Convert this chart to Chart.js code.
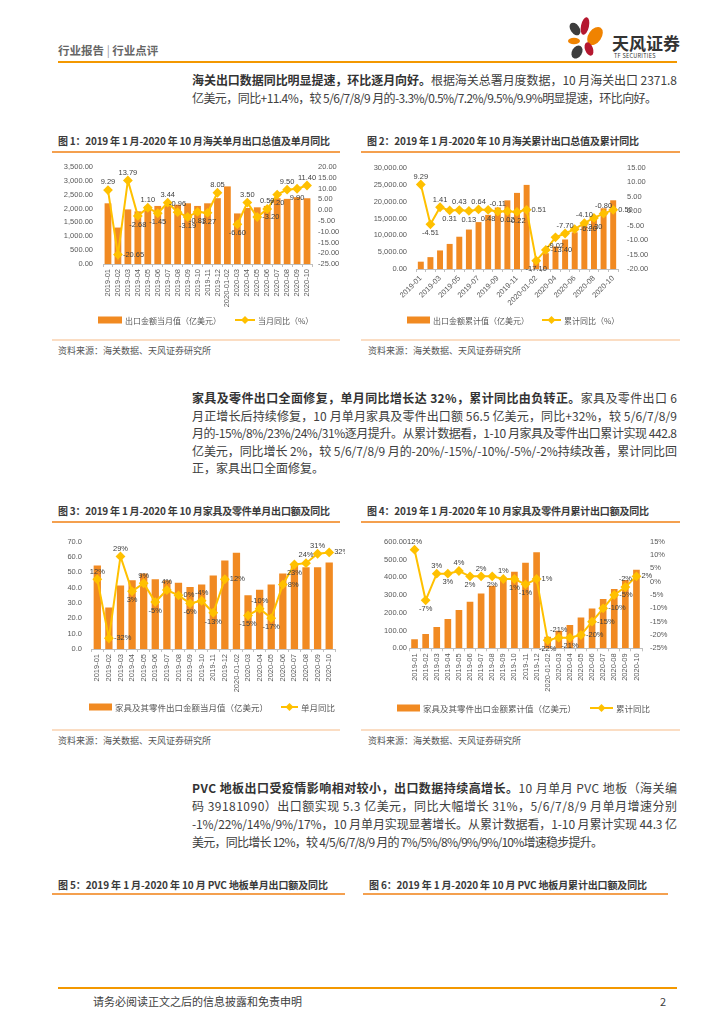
<!DOCTYPE html>
<html>
<head>
<meta charset="utf-8">
<script src="https://cdn.jsdelivr.net/npm/chart.js@4.4.1/dist/chart.umd.min.js"></script>
<style>
body { margin: 0; background: #fff; }
#page { position: relative; width: 724px; height: 1024px; overflow: hidden; font-family: "Noto Sans CJK SC", sans-serif; color: #404040; }
.ln { position: absolute; left: 192px; font-size: 12px; line-height: 18px; white-space: nowrap; }
.ln b { color: #333; }
.ftitle { position: absolute; font-size: 10px; line-height: 12px; font-weight: bold; color: #3a3a3a; white-space: nowrap; }
.fline { position: absolute; height: 1.5px; background: #F4A04F; }
.sline { position: absolute; height: 2px; background: #FBDDC3; }
.src { position: absolute; font-size: 9px; line-height: 11px; color: #555; white-space: nowrap; }
canvas { position: absolute; }
</style>
</head>
<body>
<div id="page">
  <!-- header -->
  <div style="position:absolute;left:58px;top:42px;font-size:11.5px;font-weight:bold;color:#666;white-space:nowrap;">行业报告 <span style="font-weight:normal;color:#999">|</span> 行业点评</div>
  <svg style="position:absolute;left:565px;top:15px" width="46" height="46" viewBox="0 0 46 46">
    <ellipse cx="10" cy="14" rx="4.5" ry="7" fill="#3d3d3d" transform="rotate(-35 10 14)"/>
    <ellipse cx="20" cy="11" rx="4" ry="9" fill="#B5172F" transform="rotate(12 20 11)"/>
    <ellipse cx="30" cy="21" rx="6.5" ry="10" fill="#F08300" transform="rotate(35 30 21)"/>
    <ellipse cx="9" cy="26" rx="6" ry="3.2" fill="#F08300"/>
    <ellipse cx="12" cy="37" rx="5" ry="7" fill="#3d3d3d" transform="rotate(30 12 37)"/>
    <ellipse cx="24" cy="34" rx="4" ry="7" fill="#B5172F" transform="rotate(-20 24 34)"/>
  </svg>
  <div style="position:absolute;left:612px;top:30px;font-size:17px;font-weight:bold;color:#333;white-space:nowrap;">天风证券</div>
  <div style="position:absolute;left:614px;top:52px;font-size:5.5px;color:#333;white-space:nowrap;letter-spacing:0.3px;">TF SECURITIES</div>
  <div style="position:absolute;left:58px;top:61px;width:619px;height:2px;background:#F39800;"></div>

  <!-- paragraph 1 -->
  <div class="ln" style="top:71px" data-w="485"><b>海关出口数据同比明显提速，环比逐月向好。</b>根据海关总署月度数据，10 月海关出口 2371.8</div>
  <div class="ln" style="top:89px" data-w="465">亿美元，同比+11.4%，较 5/6/7/8/9 月的-3.3%/0.5%/7.2%/9.5%/9.9%明显提速，环比向好。</div>

  <!-- figure 1 / 2 titles -->
  <div class="ftitle" style="left:58px;top:135px" data-w="272">图 1：2019 年 1 月-2020 年 10 月海关单月出口总值及单月同比</div>
  <div class="fline" style="left:52px;top:151px;width:288px"></div>
  <div class="ftitle" style="left:367px;top:135px" data-w="272">图 2：2019 年 1 月-2020 年 10 月海关累计出口总值及累计同比</div>
  <div class="fline" style="left:361px;top:151px;width:319px"></div>

  <canvas id="c1" width="290" height="180" style="left:52px;top:155px"></canvas>
  <canvas id="c2" width="322" height="180" style="left:360px;top:155px"></canvas>

  <div class="sline" style="left:52px;top:339px;width:288px"></div>
  <div class="src" style="left:58px;top:345px">资料来源：海关数据、天风证券研究所</div>
  <div class="sline" style="left:361px;top:339px;width:319px"></div>
  <div class="src" style="left:368px;top:345px">资料来源：海关数据、天风证券研究所</div>

  <!-- paragraph 2 -->
  <div class="ln" style="top:389px" data-w="485"><b>家具及零件出口全面修复，单月同比增长达 32%，累计同比由负转正。</b>家具及零件出口 6</div>
  <div class="ln" style="top:406.5px" data-w="485">月正增长后持续修复，10 月单月家具及零件出口额 56.5 亿美元，同比+32%，较 5/6/7/8/9</div>
  <div class="ln" style="top:424px" data-w="485">月的-15%/8%/23%/24%/31%逐月提升。从累计数据看，1-10 月家具及零件出口累计实现 442.8</div>
  <div class="ln" style="top:441.5px" data-w="485">亿美元，同比增长 2%，较 5/6/7/8/9 月的-20%/-15%/-10%/-5%/-2%持续改善，累计同比回</div>
  <div class="ln" style="top:459px">正，家具出口全面修复。</div>

  <!-- figure 3 / 4 -->
  <div class="ftitle" style="left:58px;top:505px" data-w="272">图 3：2019 年 1 月-2020 年 10 月家具及零件单月出口额及同比</div>
  <div class="fline" style="left:52px;top:521px;width:288px"></div>
  <div class="ftitle" style="left:367px;top:505px" data-w="282">图 4：2019 年 1 月-2020 年 10 月家具及零件月累计出口额及同比</div>
  <div class="fline" style="left:361px;top:521px;width:319px"></div>

  <canvas id="c3" width="293" height="200" style="left:52px;top:525px"></canvas>
  <canvas id="c4" width="308" height="200" style="left:360px;top:525px"></canvas>

  <div class="sline" style="left:52px;top:729px;width:288px"></div>
  <div class="src" style="left:58px;top:735px">资料来源：海关数据、天风证券研究所</div>
  <div class="sline" style="left:361px;top:729px;width:319px"></div>
  <div class="src" style="left:368px;top:735px">资料来源：海关数据、天风证券研究所</div>

  <!-- paragraph 3 -->
  <div class="ln" style="top:779px" data-w="485"><b>PVC 地板出口受疫情影响相对较小，出口数据持续高增长。</b>10 月单月 PVC 地板（海关编</div>
  <div class="ln" style="top:797px" data-w="485">码 39181090）出口额实现 5.3 亿美元，同比大幅增长 31%，5/6/7/8/9 月单月增速分别</div>
  <div class="ln" style="top:815px" data-w="485">-1%/22%/14%/9%/17%，10 月单月实现显著增长。从累计数据看，1-10 月累计实现 44.3 亿</div>
  <div class="ln" style="top:833px" data-w="411">美元，同比增长 12%，较 4/5/6/7/8/9 月的 7%/5%/8%/9%/9%/10%增速稳步提升。</div>

  <!-- figure 5 / 6 titles -->
  <div class="ftitle" style="left:58px;top:879px" data-w="270">图 5：2019 年 1 月-2020 年 10 月 PVC 地板单月出口额及同比</div>
  <div class="fline" style="left:52px;top:893px;width:293px"></div>
  <div class="ftitle" style="left:369px;top:879px" data-w="278">图 6：2019 年 1 月-2020 年 10 月 PVC 地板月累计出口额及同比</div>
  <div class="fline" style="left:363px;top:893px;width:305px"></div>

  <!-- footer -->
  <div style="position:absolute;left:58px;top:987px;width:619px;height:2px;background:#F39800;"></div>
  <div style="position:absolute;left:93px;top:993px;font-size:11px;color:#404040;white-space:nowrap;">请务必阅读正文之后的信息披露和免责申明</div>
  <div style="position:absolute;left:660px;top:993px;font-size:11px;color:#404040;">2</div>
</div>

<script>
// categories (2020 Jan & Feb reported together)
const months = ['2019-01', '2019-02', '2019-03', '2019-04', '2019-05', '2019-06', '2019-07', '2019-08',
    '2019-09', '2019-10', '2019-11', '2019-12', '2020-01-02', '2020-03', '2020-04', '2020-05',
    '2020-06', '2020-07', '2020-08', '2020-09', '2020-10'];

// fig 1: customs exports, single month (100m USD) and yoy (%)
const exportMonth = [2190, 1315, 1970, 1900, 2095, 2095, 2140, 2140, 2190, 2095, 2190, 2375,
    2800, 1825, 2020, 2045, 2095, 2375, 2350, 2410, 2372];
const exportMonthYoy = [9.29, -20.65, 13.79, -2.68, 1.10, -1.45, 3.44, -0.96, -3.19, -0.83, -1.27, 8.05,
    null, -6.60, 3.50, -3.20, 0.50, 7.20, 9.50, 9.90, 11.40];

// fig 2: customs exports, cumulative (100m USD) and yoy (%)
const exportCum = [2175, 3527, 5514, 7449, 9587, 11717, 13932, 16080, 18261, 20390, 22607, 24983,
    2850, 4700, 6700, 8770, 10900, 13280, 15630, 18040, 20410];
const exportCumYoy = [9.29, -4.51, 1.41, 0.31, 0.43, 0.13, 0.64, 0.48, -0.11, 0.02, -0.22, 0.51,
    -17.10, -13.40, -9.02, -7.70, -6.20, -4.10, -2.30, -0.80, 0.50];

// fig 3: furniture & parts, single month (100m USD) and yoy (%)
const furnMonth = [54.5, 27.0, 41.5, 44.8, 49.2, 45.5, 44.8, 43.3, 40.4, 42.0, 48.0, 57.8,
    62.8, 35.0, 38.7, 42.0, 49.2, 54.5, 53.4, 53.4, 56.5];
const furnMonthYoy = [12, -32, 29, 3, 9, -5, 4, 0, -6, -4, -13, 12,
    null, -15, -10, -17, 8, 23, 24, 31, 32];

// fig 4: furniture & parts, cumulative (100m USD) and yoy (%)
const furnCum = [50.6, 80.5, 120, 165, 215.5, 262, 309, 352, 390, 431, 482, 540,
    65, 99, 131, 174, 224, 277, 334, 384, 442.8];
const furnCumYoy = [12, -7, 3, 3, 4, 2, 2, 2, 1, 1, -1, 1,
    -22, -21, -21, -20, -15, -10, -5, -2, 2];

// axis ranges
const ax1 = { left: [0, 3500, 500], right: [-25, 20, 5] };
const ax2 = { left: [0, 30000, 5000], right: [-20, 15, 5] };
const ax3 = { left: [0, 70, 10], right: [-40, 40, 10] };
const ax4 = { left: [0, 600, 100], right: [-25, 15, 5] };

const BAR = '#F18A22';
const LINE = '#FFC000';
const TXT = '#595959';
const NUMFONT = "'Liberation Sans', 'Noto Sans CJK SC', sans-serif";
const CJKFONT = "'Noto Sans CJK SC', sans-serif";

Chart.defaults.animation = false;
Chart.defaults.font.family = NUMFONT;
Chart.defaults.color = TXT;

function fixWidth(w) {
    return function(scale) { scale.width = w; scale.paddingTop = 0; scale.paddingBottom = 0; };
}
function fixHeight(h) {
    return function(scale) { scale.height = h; scale.paddingLeft = 0; scale.paddingRight = 0; };
}

// excel-like legend: bar swatch, line with diamond
function legendPlugin(items, fontSize) {
    return {
        id: 'xlLegend',
        afterDraw(chart) {
            const ctx = chart.ctx;
            ctx.save();
            ctx.font = fontSize + 'px ' + CJKFONT;
            ctx.textBaseline = 'middle';
            ctx.fillStyle = TXT;
            chart.data.datasets.forEach((ds, i) => {
                const it = items[i];
                if (ds.type === 'bar') {
                    ctx.fillStyle = BAR;
                    ctx.fillRect(it.x, it.y - 3.5, it.w, 7);
                } else {
                    ctx.strokeStyle = LINE;
                    ctx.lineWidth = 2;
                    ctx.beginPath();
                    ctx.moveTo(it.x, it.y);
                    ctx.lineTo(it.x + it.w, it.y);
                    ctx.stroke();
                    const cx = it.x + it.w / 2;
                    ctx.fillStyle = LINE;
                    ctx.beginPath();
                    ctx.moveTo(cx, it.y - 4);
                    ctx.lineTo(cx + 4, it.y);
                    ctx.lineTo(cx, it.y + 4);
                    ctx.lineTo(cx - 4, it.y);
                    ctx.closePath();
                    ctx.fill();
                }
                ctx.fillStyle = TXT;
                ctx.fillText(ds.label, it.x + it.w + 3, it.y + 0.5);
            });
            ctx.restore();
        }
    };
}

// value labels next to the line points
function pointLabelPlugin(dsIndex, pos, fmt) {
    return {
        id: 'ptLabels',
        afterDatasetsDraw(chart) {
            const ctx = chart.ctx;
            const data = chart.data.datasets[dsIndex].data;
            ctx.save();
            ctx.font = '7.5px ' + NUMFONT;
            ctx.fillStyle = '#404040';
            chart.getDatasetMeta(dsIndex).data.forEach((pt, i) => {
                if (data[i] === null) return;
                const p = pos[i];
                let x = pt.x, y = pt.y;
                if (p === 't') { ctx.textAlign = 'center'; ctx.textBaseline = 'bottom'; y -= 4; }
                else if (p === 'b') { ctx.textAlign = 'center'; ctx.textBaseline = 'top'; y += 5; }
                else if (p === 'r') { ctx.textAlign = 'left'; ctx.textBaseline = 'middle'; x += 5; }
                else { ctx.textAlign = 'right'; ctx.textBaseline = 'middle'; x -= 5; }
                ctx.fillText(fmt(data[i]), x, y);
            });
            ctx.restore();
        }
    };
}

function makeChart(id, o) {
    const tickFont = { size: 7.5, family: NUMFONT };
    return new Chart(document.getElementById(id), {
        type: 'bar',
        data: {
            labels: months,
            datasets: [
                {
                    type: 'bar', label: o.barLabel, data: o.bars, yAxisID: 'y', order: 1,
                    backgroundColor: BAR, categoryPercentage: 1, barPercentage: o.barPct
                },
                {
                    type: 'line', label: o.lineLabel, data: o.line, yAxisID: 'y1', order: 0,
                    borderColor: LINE, backgroundColor: LINE, borderWidth: 2, tension: 0,
                    pointStyle: 'rectRot', pointRadius: 3.5, pointBackgroundColor: LINE,
                    pointBorderColor: LINE, spanGaps: false
                }
            ]
        },
        options: {
            responsive: false,
            maintainAspectRatio: false,
            layout: { padding: o.pad },
            plugins: { legend: { display: false }, tooltip: { enabled: false } },
            scales: {
                x: {
                    offset: true,
                    grid: { display: true, drawOnChartArea: false, offset: true, tickLength: 3, color: '#BFBFBF' },
                    border: { color: '#BFBFBF' },
                    ticks: {
                        font: tickFont, color: TXT, autoSkip: false, padding: 2,
                        minRotation: o.rot, maxRotation: o.rot,
                        callback: function(v, i) {
                            return (o.every && i % o.every) ? '' : this.getLabelForValue(v);
                        }
                    },
                    afterFit: fixHeight(o.xH)
                },
                y: {
                    position: 'left', min: o.axis.left[0], max: o.axis.left[1],
                    grid: { display: false, drawTicks: false }, border: { display: false },
                    ticks: { stepSize: o.axis.left[2], font: tickFont, color: TXT, padding: o.lPad, autoSkip: false, callback: o.lFmt },
                    afterFit: fixWidth(o.lW)
                },
                y1: {
                    position: 'right', min: o.axis.right[0], max: o.axis.right[1],
                    grid: { display: false, drawTicks: false }, border: { display: false },
                    ticks: { display: o.rShow, stepSize: o.axis.right[2], font: tickFont, color: TXT, padding: o.rPad, autoSkip: false, callback: o.rFmt },
                    afterFit: fixWidth(o.rW)
                }
            }
        },
        plugins: [legendPlugin(o.legend, o.legendFont), pointLabelPlugin(1, o.pos, o.fmt)]
    });
}

const two = v => v.toFixed(2);
const pct = v => Math.round(v) + '%';

makeChart('c1', {
    bars: exportMonth, line: exportMonthYoy, axis: ax1,
    barLabel: '出口金额当月值（亿美元）', lineLabel: '当月同比（%）',
    barPct: 0.68, rot: 90, xH: 45, lW: 51, rW: 30, lPad: 10, rPad: 6, rShow: true,
    pad: { top: 12, bottom: 26, left: 0, right: 0 },
    lFmt: v => v.toLocaleString('en-US', { minimumFractionDigits: 2, maximumFractionDigits: 2 }),
    rFmt: two, fmt: two,
    pos: ['t', 'r', 't', 'b', 't', 'b', 't', 't', 'b', 'b', 'b', 't', 't', 'b', 't', 'r', 't', 'b', 't', 'b', 't'],
    legend: [{ x: 46, y: 165, w: 24 }, { x: 183, y: 165, w: 20 }], legendFont: 8
});

makeChart('c2', {
    bars: exportCum, line: exportCumYoy, axis: ax2,
    barLabel: '出口金额累计值（亿美元）', lineLabel: '累计同比（%）',
    barPct: 0.62, rot: 45, every: 2, xH: 45, lW: 56, rW: 64, lPad: 9, rPad: 9, rShow: true,
    pad: { top: 13, bottom: 21, left: 0, right: 0 },
    lFmt: v => v.toLocaleString('en-US', { minimumFractionDigits: 2, maximumFractionDigits: 2 }),
    rFmt: two, fmt: two,
    pos: ['t', 'b', 't', 'b', 't', 'b', 't', 'b', 't', 'b', 'b', 'r', 'b', 'r', 'b', 't', 'r', 't', 'b', 't', 'r'],
    legend: [{ x: 47, y: 165, w: 23 }, { x: 182, y: 165, w: 19 }], legendFont: 8
});

makeChart('c3', {
    bars: furnMonth, line: furnMonthYoy, axis: ax3,
    barLabel: '家具及其零件出口金额当月值（亿美元）', lineLabel: '单月同比',
    barPct: 0.63, rot: 90, xH: 45, lW: 39.5, rW: 10, lPad: 9.5, rPad: 6, rShow: false,
    pad: { top: 16.7, bottom: 31, left: 0, right: 0 },
    lFmt: v => v.toFixed(1), rFmt: v => v + '%', fmt: pct,
    pos: ['t', 'r', 't', 'b', 't', 'b', 't', 'r', 'b', 't', 'b', 'r', 'b', 'b', 't', 'b', 'r', 'b', 't', 't', 'r'],
    legend: [{ x: 37, y: 182, w: 23 }, { x: 229, y: 182, w: 17 }], legendFont: 8.5
});

makeChart('c4', {
    bars: furnCum, line: furnCumYoy, axis: ax4,
    barLabel: '家具及其零件出口金额累计值（亿美元）', lineLabel: '累计同比',
    barPct: 0.6, rot: 90, xH: 45, lW: 49, rW: 26, lPad: 2, rPad: 8, rShow: true,
    pad: { top: 16.7, bottom: 31.7, left: 0, right: 0 },
    lFmt: v => v.toFixed(2), rFmt: v => v + '%', fmt: pct,
    pos: ['t', 'b', 't', 'b', 't', 'b', 't', 'b', 't', 'b', 'b', 'r', 'b', 't', 'b', 'r', 'r', 'r', 'r', 't', 'r'],
    legend: [{ x: 37, y: 183, w: 23 }, { x: 230, y: 183, w: 23 }], legendFont: 8.5
});

// stretch text lines to the widths they have in the report
document.fonts.ready.then(() => {
    document.querySelectorAll('[data-w]').forEach(el => {
        el.style.letterSpacing = '0px';
        const r = document.createRange();
        r.selectNodeContents(el);
        const w = r.getBoundingClientRect().width;
        const n = [...el.textContent].length;
        el.style.letterSpacing = ((+el.dataset.w - w) / (n - 1)) + 'px';
    });
});
</script>
</body>
</html>
